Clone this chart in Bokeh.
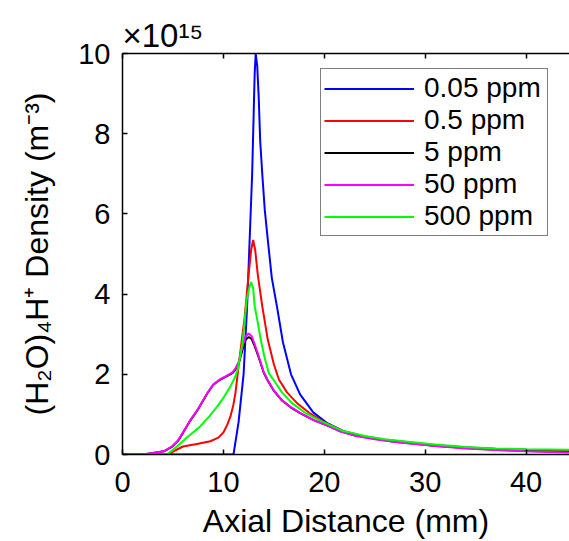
from bokeh.plotting import figure
from bokeh.models import (Title, LinearAxis, FixedTicker, Legend, LegendItem, Range1d,
                          CustomJSTickFormatter)
from bokeh.embed import file_html
from bokeh.resources import INLINE

# ---------------- data (values in units of 1e15 m^-3, x in mm) ----------------
series_names = ["0.05 ppm", "0.5 ppm", "5 ppm", "50 ppm", "500 ppm"]
series_colors = ["#0000ff", "#ff0000", "#000000", "#ff00ff", "#00ff00"]

x_0p05 = [0, 11.0, 11.5, 12.0, 12.35, 12.6, 12.85, 13.0, 13.1, 13.2, 13.35, 13.5, 13.65,
          13.85, 14.1, 14.4, 14.8, 15.3, 15.9, 16.7, 17.6, 18.9, 20.3, 21.9, 24, 26, 28.5,
          31, 33.8, 37, 40, 44.6]
y_0p05 = [0, 0, 0.8, 2.0, 3.7, 5.35, 7.0, 8.5, 9.5, 10.0, 9.7, 8.9, 7.8,
          7.0, 6.1, 5.35, 4.4, 3.7, 2.8, 2.0, 1.5, 1.05, 0.78, 0.58, 0.45, 0.37, 0.3,
          0.23, 0.18, 0.14, 0.12, 0.1]

x_0p5 = [0, 4.6, 5.2, 6.0, 7.5, 8.7, 9.5, 10.0, 10.4, 10.7, 11.0, 11.2, 11.5, 11.85,
         12.1, 12.5, 12.75, 12.95, 13.15, 13.4, 13.85, 14.4, 15.0, 15.5, 16.3, 17.3, 18.5,
         20.0, 21.8, 24, 26, 28.5, 31, 34, 37, 40, 44.6]
y_0p5 = [0, 0, 0.1, 0.2, 0.27, 0.33, 0.42, 0.55, 0.75, 0.95, 1.25, 1.55, 2.2, 2.9,
         3.4, 4.5, 5.1, 5.35, 5.1, 4.5, 3.7, 2.86, 2.25, 1.87, 1.55, 1.28, 1.04,
         0.8, 0.58, 0.44, 0.36, 0.29, 0.22, 0.17, 0.14, 0.12, 0.1]

x_5 = [0, 2.0, 2.5, 4.1, 4.9, 5.5, 6.0, 6.7, 7.4, 8.4, 9.0, 9.7, 10.3, 10.9, 11.2, 11.5,
       11.9, 12.2, 12.5, 12.8, 13.1, 13.5, 14.0, 14.4, 15.0, 15.8, 16.7, 17.6, 19.0, 20.5,
       21.6, 23, 25, 27, 29, 31, 34, 37, 40, 44.6]
y_5 = [0, 0, 0.02, 0.08, 0.19, 0.34, 0.54, 0.84, 1.09, 1.52, 1.74, 1.87, 1.95, 2.03, 2.12, 2.25,
       2.62, 2.86, 2.93, 2.88, 2.7, 2.42, 2.04, 1.84, 1.59, 1.35, 1.17, 1.03, 0.85, 0.7,
       0.58, 0.48, 0.39, 0.32, 0.27, 0.22, 0.16, 0.12, 0.09, 0.06]

x_50 = [0, 2.0, 2.5, 4.1, 4.9, 5.5, 6.0, 6.7, 7.4, 8.4, 9.0, 9.7, 10.3, 10.9, 11.2, 11.5,
        11.9, 12.2, 12.5, 12.8, 13.1, 13.5, 14.0, 14.4, 15.0, 15.8, 16.7, 17.6, 19.0, 20.5,
        21.6, 23, 25, 27, 29, 31, 34, 37, 40, 44.6]
y_50 = [0, 0, 0.02, 0.08, 0.2, 0.35, 0.55, 0.85, 1.1, 1.53, 1.75, 1.88, 1.96, 2.05, 2.15, 2.3,
        2.7, 2.95, 3.02, 2.95, 2.75, 2.45, 2.05, 1.85, 1.6, 1.35, 1.18, 1.04, 0.85, 0.7,
        0.57, 0.47, 0.38, 0.31, 0.26, 0.21, 0.15, 0.11, 0.08, 0.05]

x_500 = [0, 4.4, 5.4, 6.5, 7.7, 8.6, 9.4, 10.1, 10.7, 11.1, 11.4, 11.7, 11.9, 12.1, 12.3,
         12.55, 12.75, 12.95, 13.1, 13.4, 13.7, 14.1, 14.5, 15.0, 15.8, 16.8, 18.1, 19.8,
         21.7, 24, 26, 28.5, 31, 34, 37, 40, 44.6]
y_500 = [0, 0, 0.2, 0.45, 0.7, 0.95, 1.2, 1.45, 1.7, 1.9, 2.1, 2.5, 2.8, 3.3, 3.85,
         4.15, 4.3, 4.15, 3.7, 3.3, 2.86, 2.4, 2.03, 1.85, 1.55, 1.28, 1.04, 0.82,
         0.6, 0.46, 0.38, 0.31, 0.25, 0.19, 0.15, 0.13, 0.12]

x_ticks = [0, 10, 20, 30, 40]
y_ticks = [0, 2, 4, 6, 8, 10]
x_max, y_max = 44.3, 10

x_label = "Axial Distance (mm)"
y_label = "(H\u2082O)\u2084H\u207a Density (m\u207b\u00b3)"
exponent_label = "\u00d710\u00b9\u2075"

FONT = "Liberation Sans"
W, H = 569, 541
FL, FT, FB = 122, 53, 455          # frame left / top / bottom in page pixels

p = figure(width=W, height=H, x_range=Range1d(0, x_max), y_range=Range1d(0, y_max),
           output_backend="svg", toolbar_location=None,
           min_border_left=FL, min_border_right=0, min_border_top=FT,
           min_border_bottom=H - FB)
p.xgrid.visible = False
p.ygrid.visible = False
p.outline_line_color = None
p.background_fill_color = "white"
p.border_fill_color = "white"

for ax, ticks in ((p.xaxis[0], x_ticks), (p.yaxis[0], y_ticks)):
    ax.ticker = FixedTicker(ticks=ticks)
    ax.major_tick_in = 5
    ax.major_tick_out = 0
    ax.minor_tick_in = 0
    ax.minor_tick_out = 0
    ax.axis_line_color = "black"
    ax.axis_line_width = 1.5
    ax.major_tick_line_color = "black"
    ax.major_tick_line_width = 1.5
    ax.major_label_text_font = FONT
    ax.major_label_text_font_size = "29px"
    ax.major_label_text_color = "black"
    ax.axis_label_text_font = FONT
    ax.axis_label_text_font_size = "32px"
    ax.axis_label_text_font_style = "normal"
    ax.axis_label_text_color = "black"
p.xaxis.major_label_standoff = 17
p.yaxis.major_label_standoff = 12
p.xaxis.axis_label = x_label
p.xaxis.axis_label_standoff = 8
p.yaxis.axis_label = y_label
p.yaxis.axis_label_standoff = 20

top = LinearAxis(ticker=FixedTicker(ticks=x_ticks),
                 formatter=CustomJSTickFormatter(code="return ''"),
                 major_tick_in=5, major_tick_out=0, minor_tick_in=0, minor_tick_out=0,
                 major_label_standoff=0,
                 axis_line_color="black", axis_line_width=1.5,
                 major_tick_line_color="black", major_tick_line_width=1.5)
p.add_layout(top, "above")

p.add_layout(Title(text=exponent_label, align="left", offset=0, standoff=0,
                   text_font=FONT, text_font_size="33px", text_font_style="normal",
                   text_color="black"), "above")

xs = [x_0p05, x_0p5, x_5, x_50, x_500]
ys = [y_0p05, y_0p5, y_5, y_50, y_500]
items = []
for name, col, xv, yv in zip(series_names, series_colors, xs, ys):
    r = p.line(xv, yv, line_color=col, line_width=2)
    items.append(LegendItem(label=name, renderers=[r]))

legend = Legend(items=items, location=(198, 218), label_text_font=FONT,
                label_text_font_size="28px", label_text_color="black",
                label_height=29, glyph_height=29, glyph_width=90, label_standoff=10,
                label_width=120, spacing=0, padding=3, margin=0,
                border_line_color="black", border_line_width=1.5,
                background_fill_color="white", background_fill_alpha=1.0)
p.add_layout(legend)

open("out.html", "w").write(file_html(p, INLINE))
